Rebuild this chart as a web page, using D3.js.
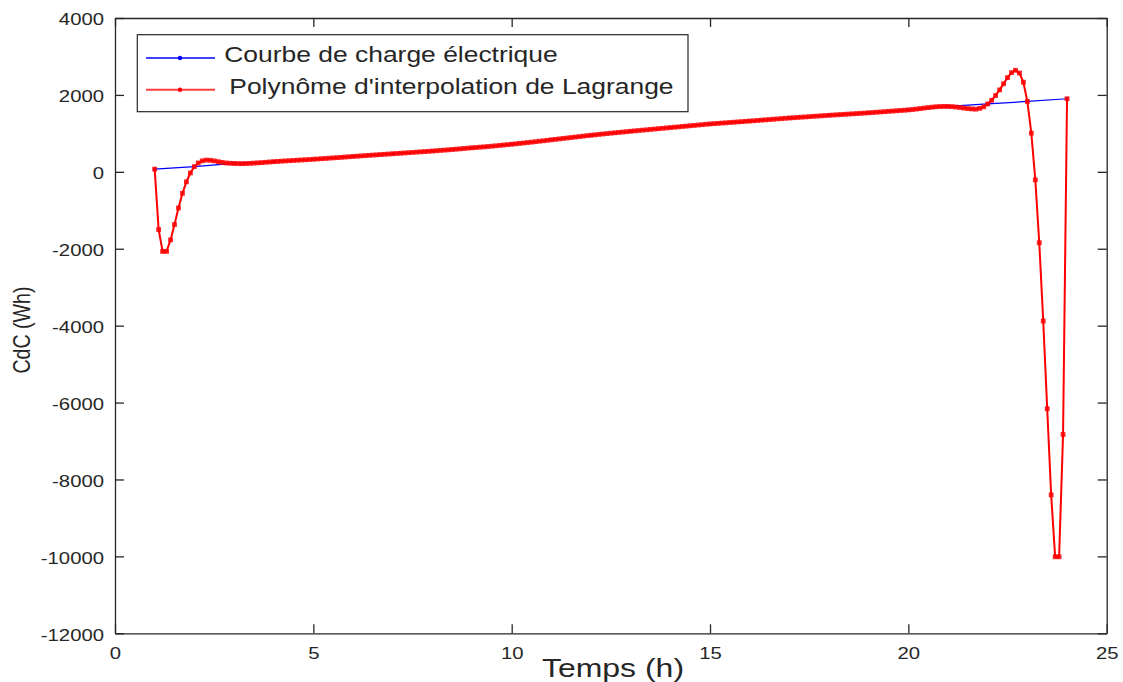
<!DOCTYPE html>
<html>
<head>
<meta charset="utf-8">
<script src="https://cdn.jsdelivr.net/npm/d3@7"></script>
<style>
  html, body { margin: 0; padding: 0; background: #ffffff; }
  svg { display: block; }
  text { font-family: "Liberation Sans", Arial, Helvetica, sans-serif; fill: #262626; }
</style>
</head>
<body>
<svg id="chart" width="1123" height="682"></svg>
<script>
// Hourly load curve (Wh), one sample per hour
const hours = [1, 2, 3, 4, 5, 6, 7, 8, 9, 10, 11, 12, 13, 14, 15, 16, 17, 18, 19, 20, 21, 22, 23, 24];
const loadValues = [70, 135, 218, 264, 327, 400, 470, 540, 625, 717, 832, 951,
                    1055, 1150, 1245, 1320, 1400, 1470, 1535, 1610, 1700, 1765, 1830, 1900];

// Lagrange polynomial evaluated every 0.1 h from 1 h to 24 h
const lagrangeStart = 1;
const lagrangeStep = 0.1;
const lagrangeValues = [
  70, -1500, -2070, -2070, -1770, -1370, -940, -560, -260, -30,
  135, 230, 285, 305, 300, 285, 265, 245, 230, 222,
  218, 214, 213, 215, 220, 226, 233, 240, 248, 256,
  264, 271, 278, 284, 290, 296, 302, 308, 314, 320,
  327, 334, 341, 348, 355, 362, 369, 376, 384, 392,
  400, 407, 414, 421, 428, 435, 442, 449, 456, 463,
  470, 477, 484, 491, 498, 505, 512, 519, 526, 533,
  540, 548, 556, 564, 572, 580, 589, 598, 607, 616,
  625, 633, 641, 649, 658, 667, 677, 687, 697, 707,
  717, 728, 739, 750, 761, 772, 784, 796, 808, 820,
  832, 844, 856, 868, 880, 892, 904, 916, 928, 940,
  951, 962, 973, 984, 995, 1005, 1015, 1025, 1035, 1045,
  1055, 1065, 1074, 1084, 1093, 1103, 1112, 1122, 1131, 1141,
  1150, 1160, 1169, 1179, 1188, 1198, 1207, 1217, 1226, 1236,
  1245, 1253, 1260, 1268, 1275, 1283, 1290, 1298, 1305, 1313,
  1320, 1328, 1336, 1344, 1352, 1360, 1368, 1376, 1384, 1392,
  1400, 1407, 1414, 1421, 1428, 1435, 1442, 1449, 1456, 1463,
  1470, 1476, 1483, 1489, 1496, 1502, 1509, 1515, 1522, 1528,
  1535, 1542, 1550, 1557, 1565, 1572, 1580, 1587, 1595, 1602,
  1610, 1620, 1632, 1645, 1658, 1670, 1682, 1692, 1698, 1701,
  1700, 1695, 1685, 1672, 1658, 1645, 1636, 1630, 1650, 1690,
  1765, 1860, 1985, 2130, 2290, 2450, 2580, 2640, 2570, 2330,
  1830, 1005, -208, -1844, -3880, -6160, -8400, -10010, -10010, -6830,
  1900
];

const xTicks = [0, 5, 10, 15, 20, 25];
const yTicks = [-12000, -10000, -8000, -6000, -4000, -2000, 0, 2000, 4000];

const seriesNames = ["Courbe de charge électrique", "Polynôme d'interpolation de Lagrange"];
const seriesColors = ["#0000ff", "#ff0000"];

const xLabel = "Temps (h)";
const yLabel = "CdC (Wh)";

// Layout
const plot = { left: 115, right: 1106.7, top: 18, bottom: 633.3 };
const stretch = 1.23;          // horizontal glyph stretch of all text
const axisColor = "#262626";

const svg = d3.select("#chart");

const x = d3.scaleLinear().domain([0, 25]).range([plot.left, plot.right]);
const y = d3.scaleLinear().domain([-12000, 4000]).range([plot.bottom, plot.top]);

// Stretch a text node horizontally around its anchor x
function stretchText(sel) {
  sel.each(function () {
    const t = d3.select(this);
    const ax = +t.attr("x") || 0;
    t.attr("transform", `translate(${ax},0) scale(${stretch},1) translate(${-ax},0)`);
  });
}

function styleAxis(g) {
  g.select(".domain").attr("stroke", axisColor).attr("stroke-width", 1.3);
  g.selectAll(".tick line").attr("stroke", axisColor).attr("stroke-width", 1.3);
  g.selectAll(".tick text")
    .attr("fill", axisColor)
    .style("font-size", "16.5px")
    .style("font-family", "'Liberation Sans', Arial, Helvetica, sans-serif");
}

// Bottom axis with labels
const gx = svg.append("g")
  .attr("transform", `translate(0,${plot.bottom})`)
  .call(d3.axisBottom(x).tickValues(xTicks).tickSizeInner(-9).tickSizeOuter(0).tickPadding(14).tickFormat(d3.format("d")));
styleAxis(gx);
gx.selectAll(".tick text").call(stretchText);

// Top axis, ticks only
const gxTop = svg.append("g")
  .attr("transform", `translate(0,${plot.top})`)
  .call(d3.axisTop(x).tickValues(xTicks).tickSizeInner(-9).tickSizeOuter(0).tickFormat(""));
styleAxis(gxTop);

// Left axis with labels
const gy = svg.append("g")
  .attr("transform", `translate(${plot.left},0)`)
  .call(d3.axisLeft(y).tickValues(yTicks).tickSizeInner(-9).tickSizeOuter(0).tickPadding(11).tickFormat(d => String(d)));
styleAxis(gy);
gy.selectAll(".tick text").attr("dy", "0.42em").call(stretchText);

// Right axis, ticks only
const gyRight = svg.append("g")
  .attr("transform", `translate(${plot.right},0)`)
  .call(d3.axisRight(y).tickValues(yTicks).tickSizeInner(-9).tickSizeOuter(0).tickFormat(""));
styleAxis(gyRight);

// Series data
const loadData = hours.map((h, i) => ({ t: h, v: loadValues[i] }));
const lagrangeData = lagrangeValues.map((v, i) => ({ t: lagrangeStart + i * lagrangeStep, v }));

const line = d3.line().x(d => x(d.t)).y(d => y(d.v));

const plotG = svg.append("g");

// Load curve (blue)
plotG.append("path")
  .datum(loadData)
  .attr("fill", "none")
  .attr("stroke", seriesColors[0])
  .attr("stroke-width", 1.2)
  .attr("d", line);
plotG.append("g").selectAll("circle")
  .data(loadData)
  .join("circle")
  .attr("cx", d => x(d.t))
  .attr("cy", d => y(d.v))
  .attr("r", 1.8)
  .attr("fill", seriesColors[0]);

// Lagrange polynomial (red)
plotG.append("path")
  .datum(lagrangeData)
  .attr("fill", "none")
  .attr("stroke", seriesColors[1])
  .attr("stroke-width", 2)
  .attr("stroke-linejoin", "round")
  .attr("d", line);
plotG.append("g").selectAll("rect")
  .data(lagrangeData)
  .join("rect")
  .attr("x", d => x(d.t) - 2.4)
  .attr("y", d => y(d.v) - 2.4)
  .attr("width", 4.8)
  .attr("height", 4.8)
  .attr("fill", seriesColors[1])
  .attr("opacity", 0.85);

// Legend
const legend = svg.append("g");
legend.append("rect")
  .attr("x", 137.3).attr("y", 34.7)
  .attr("width", 550.7).attr("height", 77)
  .attr("fill", "#ffffff")
  .attr("stroke", axisColor)
  .attr("stroke-width", 1.2);

const legendRows = [
  { y: 58, textX: 224.3, baseline: 62.5 },
  { y: 89.7, textX: 229.3, baseline: 94.2 }
];
seriesNames.forEach((name, i) => {
  const row = legendRows[i];
  legend.append("line")
    .attr("x1", 146).attr("x2", 215)
    .attr("y1", row.y).attr("y2", row.y)
    .attr("stroke", seriesColors[i])
    .attr("stroke-width", i === 0 ? 1.3 : 2)
    .attr("opacity", i === 0 ? 1 : 0.75);
  legend.append("circle")
    .attr("cx", 180).attr("cy", row.y).attr("r", 2.2)
    .attr("fill", seriesColors[i]);
  legend.append("text")
    .attr("x", row.textX).attr("y", row.baseline)
    .style("font-size", "21.5px")
    .attr("fill", "#000000")
    .text(name)
    .call(stretchText);
});

// Axis titles
svg.append("text")
  .attr("x", 613).attr("y", 677)
  .attr("text-anchor", "middle")
  .style("font-size", "26px")
  .text(xLabel)
  .call(stretchText);

svg.append("text")
  .attr("transform", `translate(30,330) scale(${stretch},1) rotate(-90)`)
  .attr("text-anchor", "middle")
  .style("font-size", "19.6px")
  .text(yLabel);
</script>
</body>
</html>
